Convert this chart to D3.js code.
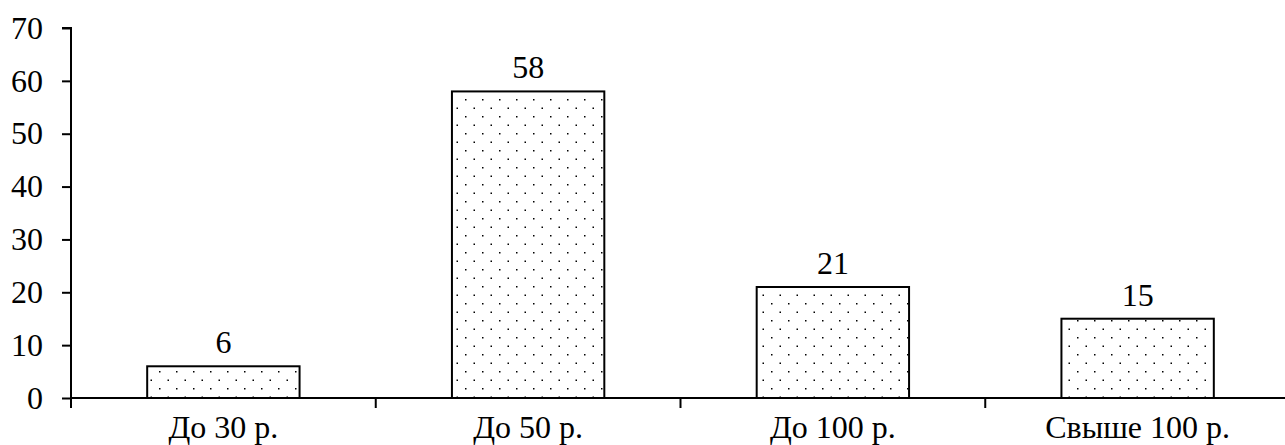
<!DOCTYPE html>
<html>
<head>
<meta charset="utf-8">
<script src="https://cdn.jsdelivr.net/npm/d3@7"></script>
<style>
  body { margin: 0; background: #fff; }
  svg { display: block; }
</style>
</head>
<body>
<div class="chart"></div>
<script>
var svgWidth = 1285;
var svgHeight = 445;

var margin = { top: 28, right: 0, bottom: 47, left: 71 };

var width = svgWidth - margin.left - margin.right;
var height = svgHeight - margin.top - margin.bottom;
// the category bands run a little past the right edge in the original
var bandRange = 1219;

// data
var categories = ["До 30 р.", "До 50 р.", "До 100 р.", "Свыше 100 р."];
var values = [6, 58, 21, 15];
var yTicks = [0, 10, 20, 30, 40, 50, 60, 70];

var fontFamily = "'Liberation Serif', 'Times New Roman', serif";
var fontSize = 32;

var svg = d3.select(".chart")
  .append("svg")
  .attr("width", svgWidth)
  .attr("height", svgHeight);

// dotted fill
var defs = svg.append("defs");
var pat = defs.append("pattern")
  .attr("id", "dots")
  .attr("patternUnits", "userSpaceOnUse")
  .attr("width", 17)
  .attr("height", 17);
pat.append("rect").attr("width", 17).attr("height", 17).attr("fill", "#fff");
pat.append("rect").attr("x", 3).attr("y", 3).attr("width", 1.5).attr("height", 1.5).attr("fill", "#000");
pat.append("rect").attr("x", 11.5).attr("y", 11.5).attr("width", 1.5).attr("height", 1.5).attr("fill", "#000");

var g = svg.append("g")
  .attr("transform", `translate(${margin.left}, ${margin.top})`);

var x = d3.scaleBand()
  .domain(categories)
  .range([0, bandRange])
  .paddingInner(0.5)
  .paddingOuter(0.25);

var xOuter = d3.scaleBand()
  .domain(categories)
  .range([0, bandRange]);

var y = d3.scaleLinear()
  .domain([0, 70])
  .range([height, 0]);

// bars
g.selectAll("rect.bar")
  .data(values)
  .enter()
  .append("rect")
  .attr("class", "bar")
  .attr("x", function(d, i) { return x(categories[i]); })
  .attr("y", function(d) { return y(d); })
  .attr("width", x.bandwidth())
  .attr("height", function(d) { return y(0) - y(d); })
  .attr("fill", "url(#dots)")
  .attr("stroke", "#000")
  .attr("stroke-width", 2);

// value labels
g.selectAll("text.val")
  .data(values)
  .enter()
  .append("text")
  .attr("class", "val")
  .text(function(d) { return d; })
  .attr("x", function(d, i) { return x(categories[i]) + x.bandwidth() / 2; })
  .attr("y", function(d) { return y(d) - 13; })
  .attr("text-anchor", "middle")
  .attr("font-family", fontFamily)
  .attr("font-size", fontSize)
  .attr("fill", "#000");

// y axis
var yAxis = g.append("g")
  .call(d3.axisLeft(y).tickValues(yTicks).tickSize(9).tickPadding(19));
yAxis.select(".domain").attr("d", `M0,${height + 10}V0H-9`).attr("stroke-width", 2);
yAxis.selectAll(".tick line").attr("stroke-width", 2);
yAxis.selectAll("text")
  .attr("font-family", fontFamily)
  .attr("font-size", fontSize)
  .attr("fill", "#000");

// x axis
var xAxis = g.append("g")
  .attr("transform", `translate(0, ${height})`);
xAxis.append("line")
  .attr("x1", 0).attr("x2", width)
  .attr("stroke", "#000").attr("stroke-width", 2);
xAxis.selectAll("line.sep")
  .data(categories.slice(1))
  .enter()
  .append("line")
  .attr("class", "sep")
  .attr("x1", function(d) { return xOuter(d); })
  .attr("x2", function(d) { return xOuter(d); })
  .attr("y1", 0).attr("y2", 10)
  .attr("stroke", "#000").attr("stroke-width", 2);
xAxis.selectAll("text")
  .data(categories)
  .enter()
  .append("text")
  .text(function(d) { return d; })
  .attr("x", function(d) { return x(d) + x.bandwidth() / 2; })
  .attr("y", 40)
  .attr("text-anchor", "middle")
  .attr("font-family", fontFamily)
  .attr("font-size", fontSize)
  .attr("fill", "#000");
</script>
</body>
</html>
